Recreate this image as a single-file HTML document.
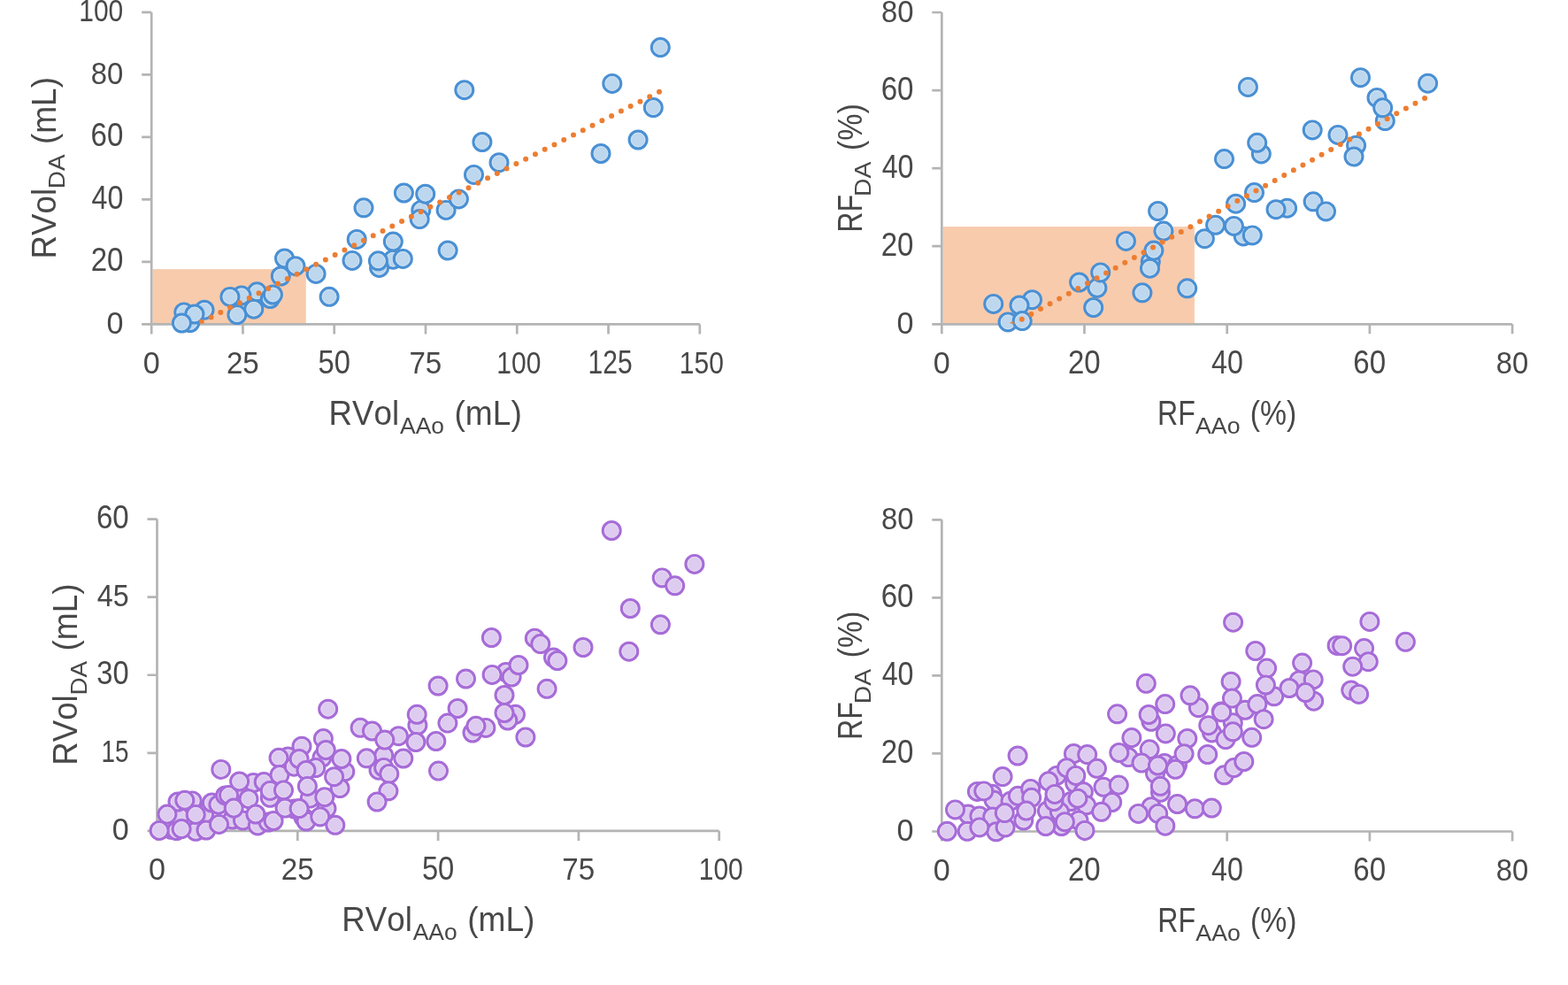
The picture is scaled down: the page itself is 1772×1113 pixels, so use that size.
<!DOCTYPE html><html><head><meta charset="utf-8"><title>Regurgitant volume and fraction scatter plots</title>
<style>html,body{margin:0;padding:0;background:#fff;overflow:hidden}svg{display:block}text{font-family:"Liberation Sans",sans-serif;font-kerning:none}</style></head><body>
<svg width="1772" height="1113" viewBox="0 0 1772 1113">
<rect width="1772" height="1113" fill="#fff"/>
<rect x="172.5" y="304.1" width="173.30" height="62.30" fill="#F8CBAD"/>
<path d="M171.20,13.90V377.40M160.20,366.40H790.82M274.47,366.40V377.40M377.74,366.40V377.40M481.01,366.40V377.40M584.28,366.40V377.40M687.55,366.40V377.40M790.82,366.40V377.40M160.20,295.90H171.20M160.20,225.40H171.20M160.20,154.90H171.20M160.20,84.40H171.20M160.20,13.90H171.20" stroke="#B4B4B4" stroke-width="2.7" fill="none"/>
<g fill="#BDD7EE" stroke="#4A90D4" stroke-width="3.2">
<circle cx="207.8" cy="352.9" r="9.9"/><circle cx="207.8" cy="352.9" r="7.9" fill="none" stroke="#D3E4F3" stroke-width="0.9"/>
<circle cx="214.8" cy="364.5" r="9.9"/><circle cx="214.8" cy="364.5" r="7.9" fill="none" stroke="#D3E4F3" stroke-width="0.9"/>
<circle cx="231.0" cy="350.2" r="9.9"/><circle cx="231.0" cy="350.2" r="7.9" fill="none" stroke="#D3E4F3" stroke-width="0.9"/>
<circle cx="219.9" cy="355.0" r="9.9"/><circle cx="219.9" cy="355.0" r="7.9" fill="none" stroke="#D3E4F3" stroke-width="0.9"/>
<circle cx="205.4" cy="365.0" r="9.9"/><circle cx="205.4" cy="365.0" r="7.9" fill="none" stroke="#D3E4F3" stroke-width="0.9"/>
<circle cx="290.4" cy="329.8" r="9.9"/><circle cx="290.4" cy="329.8" r="7.9" fill="none" stroke="#D3E4F3" stroke-width="0.9"/>
<circle cx="272.9" cy="333.9" r="9.9"/><circle cx="272.9" cy="333.9" r="7.9" fill="none" stroke="#D3E4F3" stroke-width="0.9"/>
<circle cx="259.9" cy="335.4" r="9.9"/><circle cx="259.9" cy="335.4" r="7.9" fill="none" stroke="#D3E4F3" stroke-width="0.9"/>
<circle cx="267.9" cy="355.6" r="9.9"/><circle cx="267.9" cy="355.6" r="7.9" fill="none" stroke="#D3E4F3" stroke-width="0.9"/>
<circle cx="286.8" cy="349.2" r="9.9"/><circle cx="286.8" cy="349.2" r="7.9" fill="none" stroke="#D3E4F3" stroke-width="0.9"/>
<circle cx="305.3" cy="337.5" r="9.9"/><circle cx="305.3" cy="337.5" r="7.9" fill="none" stroke="#D3E4F3" stroke-width="0.9"/>
<circle cx="308.4" cy="333.0" r="9.9"/><circle cx="308.4" cy="333.0" r="7.9" fill="none" stroke="#D3E4F3" stroke-width="0.9"/>
<circle cx="321.5" cy="292.0" r="9.9"/><circle cx="321.5" cy="292.0" r="7.9" fill="none" stroke="#D3E4F3" stroke-width="0.9"/>
<circle cx="334.0" cy="300.7" r="9.9"/><circle cx="334.0" cy="300.7" r="7.9" fill="none" stroke="#D3E4F3" stroke-width="0.9"/>
<circle cx="317.3" cy="312.0" r="9.9"/><circle cx="317.3" cy="312.0" r="7.9" fill="none" stroke="#D3E4F3" stroke-width="0.9"/>
<circle cx="357.1" cy="309.4" r="9.9"/><circle cx="357.1" cy="309.4" r="7.9" fill="none" stroke="#D3E4F3" stroke-width="0.9"/>
<circle cx="372.1" cy="335.3" r="9.9"/><circle cx="372.1" cy="335.3" r="7.9" fill="none" stroke="#D3E4F3" stroke-width="0.9"/>
<circle cx="398.0" cy="294.4" r="9.9"/><circle cx="398.0" cy="294.4" r="7.9" fill="none" stroke="#D3E4F3" stroke-width="0.9"/>
<circle cx="403.2" cy="270.4" r="9.9"/><circle cx="403.2" cy="270.4" r="7.9" fill="none" stroke="#D3E4F3" stroke-width="0.9"/>
<circle cx="411.0" cy="234.8" r="9.9"/><circle cx="411.0" cy="234.8" r="7.9" fill="none" stroke="#D3E4F3" stroke-width="0.9"/>
<circle cx="444.3" cy="293.2" r="9.9"/><circle cx="444.3" cy="293.2" r="7.9" fill="none" stroke="#D3E4F3" stroke-width="0.9"/>
<circle cx="428.6" cy="302.4" r="9.9"/><circle cx="428.6" cy="302.4" r="7.9" fill="none" stroke="#D3E4F3" stroke-width="0.9"/>
<circle cx="427.4" cy="294.8" r="9.9"/><circle cx="427.4" cy="294.8" r="7.9" fill="none" stroke="#D3E4F3" stroke-width="0.9"/>
<circle cx="455.3" cy="292.4" r="9.9"/><circle cx="455.3" cy="292.4" r="7.9" fill="none" stroke="#D3E4F3" stroke-width="0.9"/>
<circle cx="444.3" cy="273.0" r="9.9"/><circle cx="444.3" cy="273.0" r="7.9" fill="none" stroke="#D3E4F3" stroke-width="0.9"/>
<circle cx="456.4" cy="218.0" r="9.9"/><circle cx="456.4" cy="218.0" r="7.9" fill="none" stroke="#D3E4F3" stroke-width="0.9"/>
<circle cx="475.8" cy="237.4" r="9.9"/><circle cx="475.8" cy="237.4" r="7.9" fill="none" stroke="#D3E4F3" stroke-width="0.9"/>
<circle cx="474.2" cy="247.6" r="9.9"/><circle cx="474.2" cy="247.6" r="7.9" fill="none" stroke="#D3E4F3" stroke-width="0.9"/>
<circle cx="480.7" cy="219.2" r="9.9"/><circle cx="480.7" cy="219.2" r="7.9" fill="none" stroke="#D3E4F3" stroke-width="0.9"/>
<circle cx="504.1" cy="237.4" r="9.9"/><circle cx="504.1" cy="237.4" r="7.9" fill="none" stroke="#D3E4F3" stroke-width="0.9"/>
<circle cx="506.1" cy="283.0" r="9.9"/><circle cx="506.1" cy="283.0" r="7.9" fill="none" stroke="#D3E4F3" stroke-width="0.9"/>
<circle cx="518.4" cy="224.9" r="9.9"/><circle cx="518.4" cy="224.9" r="7.9" fill="none" stroke="#D3E4F3" stroke-width="0.9"/>
<circle cx="535.5" cy="197.4" r="9.9"/><circle cx="535.5" cy="197.4" r="7.9" fill="none" stroke="#D3E4F3" stroke-width="0.9"/>
<circle cx="544.9" cy="160.5" r="9.9"/><circle cx="544.9" cy="160.5" r="7.9" fill="none" stroke="#D3E4F3" stroke-width="0.9"/>
<circle cx="564.0" cy="183.7" r="9.9"/><circle cx="564.0" cy="183.7" r="7.9" fill="none" stroke="#D3E4F3" stroke-width="0.9"/>
<circle cx="524.8" cy="101.7" r="9.9"/><circle cx="524.8" cy="101.7" r="7.9" fill="none" stroke="#D3E4F3" stroke-width="0.9"/>
<circle cx="679.0" cy="173.5" r="9.9"/><circle cx="679.0" cy="173.5" r="7.9" fill="none" stroke="#D3E4F3" stroke-width="0.9"/>
<circle cx="691.8" cy="94.4" r="9.9"/><circle cx="691.8" cy="94.4" r="7.9" fill="none" stroke="#D3E4F3" stroke-width="0.9"/>
<circle cx="721.1" cy="158.0" r="9.9"/><circle cx="721.1" cy="158.0" r="7.9" fill="none" stroke="#D3E4F3" stroke-width="0.9"/>
<circle cx="738.3" cy="121.6" r="9.9"/><circle cx="738.3" cy="121.6" r="7.9" fill="none" stroke="#D3E4F3" stroke-width="0.9"/>
<circle cx="746.3" cy="53.6" r="9.9"/><circle cx="746.3" cy="53.6" r="7.9" fill="none" stroke="#D3E4F3" stroke-width="0.9"/>
</g>
<clipPath id="c1"><rect x="171.2" y="0" width="639.6199999999999" height="365.6"/></clipPath>
<path d="M745.0,103.8L176.20,389.74" stroke="#ED7D31" stroke-width="6" stroke-linecap="round" stroke-dasharray="0 12.06" fill="none" clip-path="url(#c1)"/>
<g fill="#484848">
<text transform="translate(161.72,421.90) scale(0.9472,1)" font-size="36.0">0</text>
<text transform="translate(255.90,421.90) scale(0.9205,1)" font-size="36.0">25</text>
<text transform="translate(359.53,421.90) scale(0.9087,1)" font-size="36.0">50</text>
<text transform="translate(462.41,421.90) scale(0.9213,1)" font-size="36.0">75</text>
<text transform="translate(561.29,421.90) scale(0.8334,1)" font-size="36.0">100</text>
<text transform="translate(664.56,421.90) scale(0.8350,1)" font-size="36.0">125</text>
<text transform="translate(767.83,421.90) scale(0.8334,1)" font-size="36.0">150</text>
<text transform="translate(120.47,376.95) scale(0.9472,1)" font-size="36.0">0</text>
<text transform="translate(102.64,306.45) scale(0.9178,1)" font-size="36.0">20</text>
<text transform="translate(103.56,235.95) scale(0.8939,1)" font-size="36.0">40</text>
<text transform="translate(102.62,165.45) scale(0.9183,1)" font-size="36.0">60</text>
<text transform="translate(102.87,94.95) scale(0.9117,1)" font-size="36.0">80</text>
<text transform="translate(89.21,24.45) scale(0.8334,1)" font-size="36.0">100</text>
</g>
<rect x="1065.6" y="256.1" width="284.30" height="110.20" fill="#F8CBAD"/>
<path d="M1064.30,13.98V377.30M1053.30,366.30H1709.10M1225.50,366.30V377.30M1386.70,366.30V377.30M1547.90,366.30V377.30M1709.10,366.30V377.30M1053.30,278.22H1064.30M1053.30,190.14H1064.30M1053.30,102.06H1064.30M1053.30,13.98H1064.30" stroke="#B4B4B4" stroke-width="2.7" fill="none"/>
<g fill="#BDD7EE" stroke="#4A90D4" stroke-width="3.2">
<circle cx="1122.7" cy="343.4" r="9.9"/><circle cx="1122.7" cy="343.4" r="7.9" fill="none" stroke="#D3E4F3" stroke-width="0.9"/>
<circle cx="1139.1" cy="363.9" r="9.9"/><circle cx="1139.1" cy="363.9" r="7.9" fill="none" stroke="#D3E4F3" stroke-width="0.9"/>
<circle cx="1166.5" cy="338.7" r="9.9"/><circle cx="1166.5" cy="338.7" r="7.9" fill="none" stroke="#D3E4F3" stroke-width="0.9"/>
<circle cx="1152.0" cy="345.0" r="9.9"/><circle cx="1152.0" cy="345.0" r="7.9" fill="none" stroke="#D3E4F3" stroke-width="0.9"/>
<circle cx="1155.2" cy="362.6" r="9.9"/><circle cx="1155.2" cy="362.6" r="7.9" fill="none" stroke="#D3E4F3" stroke-width="0.9"/>
<circle cx="1239.9" cy="325.3" r="9.9"/><circle cx="1239.9" cy="325.3" r="7.9" fill="none" stroke="#D3E4F3" stroke-width="0.9"/>
<circle cx="1219.6" cy="319.0" r="9.9"/><circle cx="1219.6" cy="319.0" r="7.9" fill="none" stroke="#D3E4F3" stroke-width="0.9"/>
<circle cx="1243.7" cy="307.9" r="9.9"/><circle cx="1243.7" cy="307.9" r="7.9" fill="none" stroke="#D3E4F3" stroke-width="0.9"/>
<circle cx="1235.7" cy="347.5" r="9.9"/><circle cx="1235.7" cy="347.5" r="7.9" fill="none" stroke="#D3E4F3" stroke-width="0.9"/>
<circle cx="1272.4" cy="272.4" r="9.9"/><circle cx="1272.4" cy="272.4" r="7.9" fill="none" stroke="#D3E4F3" stroke-width="0.9"/>
<circle cx="1308.6" cy="238.5" r="9.9"/><circle cx="1308.6" cy="238.5" r="7.9" fill="none" stroke="#D3E4F3" stroke-width="0.9"/>
<circle cx="1300.3" cy="295.6" r="9.9"/><circle cx="1300.3" cy="295.6" r="7.9" fill="none" stroke="#D3E4F3" stroke-width="0.9"/>
<circle cx="1299.5" cy="303.2" r="9.9"/><circle cx="1299.5" cy="303.2" r="7.9" fill="none" stroke="#D3E4F3" stroke-width="0.9"/>
<circle cx="1303.9" cy="283.1" r="9.9"/><circle cx="1303.9" cy="283.1" r="7.9" fill="none" stroke="#D3E4F3" stroke-width="0.9"/>
<circle cx="1314.9" cy="261.1" r="9.9"/><circle cx="1314.9" cy="261.1" r="7.9" fill="none" stroke="#D3E4F3" stroke-width="0.9"/>
<circle cx="1290.9" cy="330.8" r="9.9"/><circle cx="1290.9" cy="330.8" r="7.9" fill="none" stroke="#D3E4F3" stroke-width="0.9"/>
<circle cx="1341.7" cy="325.8" r="9.9"/><circle cx="1341.7" cy="325.8" r="7.9" fill="none" stroke="#D3E4F3" stroke-width="0.9"/>
<circle cx="1361.4" cy="269.7" r="9.9"/><circle cx="1361.4" cy="269.7" r="7.9" fill="none" stroke="#D3E4F3" stroke-width="0.9"/>
<circle cx="1373.6" cy="254.3" r="9.9"/><circle cx="1373.6" cy="254.3" r="7.9" fill="none" stroke="#D3E4F3" stroke-width="0.9"/>
<circle cx="1405.2" cy="266.9" r="9.9"/><circle cx="1405.2" cy="266.9" r="7.9" fill="none" stroke="#D3E4F3" stroke-width="0.9"/>
<circle cx="1394.4" cy="255.4" r="9.9"/><circle cx="1394.4" cy="255.4" r="7.9" fill="none" stroke="#D3E4F3" stroke-width="0.9"/>
<circle cx="1415.3" cy="265.9" r="9.9"/><circle cx="1415.3" cy="265.9" r="7.9" fill="none" stroke="#D3E4F3" stroke-width="0.9"/>
<circle cx="1396.6" cy="230.2" r="9.9"/><circle cx="1396.6" cy="230.2" r="7.9" fill="none" stroke="#D3E4F3" stroke-width="0.9"/>
<circle cx="1417.5" cy="217.6" r="9.9"/><circle cx="1417.5" cy="217.6" r="7.9" fill="none" stroke="#D3E4F3" stroke-width="0.9"/>
<circle cx="1454.6" cy="235.2" r="9.9"/><circle cx="1454.6" cy="235.2" r="7.9" fill="none" stroke="#D3E4F3" stroke-width="0.9"/>
<circle cx="1442.0" cy="236.7" r="9.9"/><circle cx="1442.0" cy="236.7" r="7.9" fill="none" stroke="#D3E4F3" stroke-width="0.9"/>
<circle cx="1410.4" cy="98.4" r="9.9"/><circle cx="1410.4" cy="98.4" r="7.9" fill="none" stroke="#D3E4F3" stroke-width="0.9"/>
<circle cx="1383.5" cy="179.6" r="9.9"/><circle cx="1383.5" cy="179.6" r="7.9" fill="none" stroke="#D3E4F3" stroke-width="0.9"/>
<circle cx="1425.3" cy="173.9" r="9.9"/><circle cx="1425.3" cy="173.9" r="7.9" fill="none" stroke="#D3E4F3" stroke-width="0.9"/>
<circle cx="1420.7" cy="161.3" r="9.9"/><circle cx="1420.7" cy="161.3" r="7.9" fill="none" stroke="#D3E4F3" stroke-width="0.9"/>
<circle cx="1483.2" cy="146.9" r="9.9"/><circle cx="1483.2" cy="146.9" r="7.9" fill="none" stroke="#D3E4F3" stroke-width="0.9"/>
<circle cx="1484.1" cy="227.8" r="9.9"/><circle cx="1484.1" cy="227.8" r="7.9" fill="none" stroke="#D3E4F3" stroke-width="0.9"/>
<circle cx="1498.5" cy="238.9" r="9.9"/><circle cx="1498.5" cy="238.9" r="7.9" fill="none" stroke="#D3E4F3" stroke-width="0.9"/>
<circle cx="1532.6" cy="164.3" r="9.9"/><circle cx="1532.6" cy="164.3" r="7.9" fill="none" stroke="#D3E4F3" stroke-width="0.9"/>
<circle cx="1512.0" cy="152.4" r="9.9"/><circle cx="1512.0" cy="152.4" r="7.9" fill="none" stroke="#D3E4F3" stroke-width="0.9"/>
<circle cx="1530.0" cy="177.0" r="9.9"/><circle cx="1530.0" cy="177.0" r="7.9" fill="none" stroke="#D3E4F3" stroke-width="0.9"/>
<circle cx="1537.5" cy="87.7" r="9.9"/><circle cx="1537.5" cy="87.7" r="7.9" fill="none" stroke="#D3E4F3" stroke-width="0.9"/>
<circle cx="1556.0" cy="110.4" r="9.9"/><circle cx="1556.0" cy="110.4" r="7.9" fill="none" stroke="#D3E4F3" stroke-width="0.9"/>
<circle cx="1565.3" cy="136.6" r="9.9"/><circle cx="1565.3" cy="136.6" r="7.9" fill="none" stroke="#D3E4F3" stroke-width="0.9"/>
<circle cx="1562.7" cy="121.8" r="9.9"/><circle cx="1562.7" cy="121.8" r="7.9" fill="none" stroke="#D3E4F3" stroke-width="0.9"/>
<circle cx="1613.6" cy="94.2" r="9.9"/><circle cx="1613.6" cy="94.2" r="7.9" fill="none" stroke="#D3E4F3" stroke-width="0.9"/>
</g>
<clipPath id="c2"><rect x="1064.3" y="0" width="664.8" height="365.6"/></clipPath>
<path d="M1610.06,110.94L1069.30,407.66" stroke="#ED7D31" stroke-width="6" stroke-linecap="round" stroke-dasharray="0 12.076" fill="none" clip-path="url(#c2)"/>
<g fill="#484848">
<text transform="translate(1054.82,421.80) scale(0.9472,1)" font-size="36.0">0</text>
<text transform="translate(1206.94,421.80) scale(0.9178,1)" font-size="36.0">20</text>
<text transform="translate(1369.06,421.80) scale(0.8939,1)" font-size="36.0">40</text>
<text transform="translate(1529.32,421.80) scale(0.9183,1)" font-size="36.0">60</text>
<text transform="translate(1690.77,421.80) scale(0.9117,1)" font-size="36.0">80</text>
<text transform="translate(1013.57,376.85) scale(0.9472,1)" font-size="36.0">0</text>
<text transform="translate(995.74,288.77) scale(0.9178,1)" font-size="36.0">20</text>
<text transform="translate(996.66,200.69) scale(0.8939,1)" font-size="36.0">40</text>
<text transform="translate(995.72,112.61) scale(0.9183,1)" font-size="36.0">60</text>
<text transform="translate(995.97,24.53) scale(0.9117,1)" font-size="36.0">80</text>
</g>
<path d="M177.50,586.58V949.90M166.50,938.90H812.70M336.30,938.90V949.90M495.10,938.90V949.90M653.90,938.90V949.90M812.70,938.90V949.90M166.50,850.82H177.50M166.50,762.74H177.50M166.50,674.66H177.50M166.50,586.58H177.50" stroke="#B4B4B4" stroke-width="2.7" fill="none"/>
<g fill="#DECBF0" stroke="#A76CD8" stroke-width="3.2">
<circle cx="193.6" cy="937.3" r="9.9"/><circle cx="193.6" cy="937.3" r="7.9" fill="none" stroke="#E8DCF4" stroke-width="0.9"/>
<circle cx="199.5" cy="938.6" r="9.9"/><circle cx="199.5" cy="938.6" r="7.9" fill="none" stroke="#E8DCF4" stroke-width="0.9"/>
<circle cx="221.2" cy="939.3" r="9.9"/><circle cx="221.2" cy="939.3" r="7.9" fill="none" stroke="#E8DCF4" stroke-width="0.9"/>
<circle cx="202.7" cy="922.5" r="9.9"/><circle cx="202.7" cy="922.5" r="7.9" fill="none" stroke="#E8DCF4" stroke-width="0.9"/>
<circle cx="217.2" cy="904.9" r="9.9"/><circle cx="217.2" cy="904.9" r="7.9" fill="none" stroke="#E8DCF4" stroke-width="0.9"/>
<circle cx="201.0" cy="906.0" r="9.9"/><circle cx="201.0" cy="906.0" r="7.9" fill="none" stroke="#E8DCF4" stroke-width="0.9"/>
<circle cx="230.7" cy="919.8" r="9.9"/><circle cx="230.7" cy="919.8" r="7.9" fill="none" stroke="#E8DCF4" stroke-width="0.9"/>
<circle cx="239.4" cy="907.0" r="9.9"/><circle cx="239.4" cy="907.0" r="7.9" fill="none" stroke="#E8DCF4" stroke-width="0.9"/>
<circle cx="246.9" cy="909.2" r="9.9"/><circle cx="246.9" cy="909.2" r="7.9" fill="none" stroke="#E8DCF4" stroke-width="0.9"/>
<circle cx="262.7" cy="926.0" r="9.9"/><circle cx="262.7" cy="926.0" r="7.9" fill="none" stroke="#E8DCF4" stroke-width="0.9"/>
<circle cx="274.5" cy="927.0" r="9.9"/><circle cx="274.5" cy="927.0" r="7.9" fill="none" stroke="#E8DCF4" stroke-width="0.9"/>
<circle cx="277.5" cy="896.3" r="9.9"/><circle cx="277.5" cy="896.3" r="7.9" fill="none" stroke="#E8DCF4" stroke-width="0.9"/>
<circle cx="286.4" cy="884.5" r="9.9"/><circle cx="286.4" cy="884.5" r="7.9" fill="none" stroke="#E8DCF4" stroke-width="0.9"/>
<circle cx="291.3" cy="932.9" r="9.9"/><circle cx="291.3" cy="932.9" r="7.9" fill="none" stroke="#E8DCF4" stroke-width="0.9"/>
<circle cx="303.2" cy="929.0" r="9.9"/><circle cx="303.2" cy="929.0" r="7.9" fill="none" stroke="#E8DCF4" stroke-width="0.9"/>
<circle cx="305.2" cy="901.3" r="9.9"/><circle cx="305.2" cy="901.3" r="7.9" fill="none" stroke="#E8DCF4" stroke-width="0.9"/>
<circle cx="325.5" cy="855.0" r="9.9"/><circle cx="325.5" cy="855.0" r="7.9" fill="none" stroke="#E8DCF4" stroke-width="0.9"/>
<circle cx="332.8" cy="914.1" r="9.9"/><circle cx="332.8" cy="914.1" r="7.9" fill="none" stroke="#E8DCF4" stroke-width="0.9"/>
<circle cx="180.1" cy="938.4" r="9.9"/><circle cx="180.1" cy="938.4" r="7.9" fill="none" stroke="#E8DCF4" stroke-width="0.9"/>
<circle cx="205.1" cy="936.6" r="9.9"/><circle cx="205.1" cy="936.6" r="7.9" fill="none" stroke="#E8DCF4" stroke-width="0.9"/>
<circle cx="188.9" cy="920.1" r="9.9"/><circle cx="188.9" cy="920.1" r="7.9" fill="none" stroke="#E8DCF4" stroke-width="0.9"/>
<circle cx="208.8" cy="904.3" r="9.9"/><circle cx="208.8" cy="904.3" r="7.9" fill="none" stroke="#E8DCF4" stroke-width="0.9"/>
<circle cx="221.2" cy="920.4" r="9.9"/><circle cx="221.2" cy="920.4" r="7.9" fill="none" stroke="#E8DCF4" stroke-width="0.9"/>
<circle cx="233.0" cy="938.0" r="9.9"/><circle cx="233.0" cy="938.0" r="7.9" fill="none" stroke="#E8DCF4" stroke-width="0.9"/>
<circle cx="247.5" cy="931.4" r="9.9"/><circle cx="247.5" cy="931.4" r="7.9" fill="none" stroke="#E8DCF4" stroke-width="0.9"/>
<circle cx="254.6" cy="898.9" r="9.9"/><circle cx="254.6" cy="898.9" r="7.9" fill="none" stroke="#E8DCF4" stroke-width="0.9"/>
<circle cx="249.8" cy="869.4" r="9.9"/><circle cx="249.8" cy="869.4" r="7.9" fill="none" stroke="#E8DCF4" stroke-width="0.9"/>
<circle cx="258.5" cy="898.4" r="9.9"/><circle cx="258.5" cy="898.4" r="7.9" fill="none" stroke="#E8DCF4" stroke-width="0.9"/>
<circle cx="264.2" cy="913.1" r="9.9"/><circle cx="264.2" cy="913.1" r="7.9" fill="none" stroke="#E8DCF4" stroke-width="0.9"/>
<circle cx="270.6" cy="883.0" r="9.9"/><circle cx="270.6" cy="883.0" r="7.9" fill="none" stroke="#E8DCF4" stroke-width="0.9"/>
<circle cx="281.0" cy="902.7" r="9.9"/><circle cx="281.0" cy="902.7" r="7.9" fill="none" stroke="#E8DCF4" stroke-width="0.9"/>
<circle cx="298.2" cy="883.5" r="9.9"/><circle cx="298.2" cy="883.5" r="7.9" fill="none" stroke="#E8DCF4" stroke-width="0.9"/>
<circle cx="288.9" cy="920.0" r="9.9"/><circle cx="288.9" cy="920.0" r="7.9" fill="none" stroke="#E8DCF4" stroke-width="0.9"/>
<circle cx="309.1" cy="927.5" r="9.9"/><circle cx="309.1" cy="927.5" r="7.9" fill="none" stroke="#E8DCF4" stroke-width="0.9"/>
<circle cx="305.2" cy="893.4" r="9.9"/><circle cx="305.2" cy="893.4" r="7.9" fill="none" stroke="#E8DCF4" stroke-width="0.9"/>
<circle cx="315.0" cy="856.3" r="9.9"/><circle cx="315.0" cy="856.3" r="7.9" fill="none" stroke="#E8DCF4" stroke-width="0.9"/>
<circle cx="316.0" cy="875.6" r="9.9"/><circle cx="316.0" cy="875.6" r="7.9" fill="none" stroke="#E8DCF4" stroke-width="0.9"/>
<circle cx="320.5" cy="892.9" r="9.9"/><circle cx="320.5" cy="892.9" r="7.9" fill="none" stroke="#E8DCF4" stroke-width="0.9"/>
<circle cx="322.0" cy="913.1" r="9.9"/><circle cx="322.0" cy="913.1" r="7.9" fill="none" stroke="#E8DCF4" stroke-width="0.9"/>
<circle cx="364.0" cy="856.1" r="9.9"/><circle cx="364.0" cy="856.1" r="7.9" fill="none" stroke="#E8DCF4" stroke-width="0.9"/>
<circle cx="356.8" cy="867.6" r="9.9"/><circle cx="356.8" cy="867.6" r="7.9" fill="none" stroke="#E8DCF4" stroke-width="0.9"/>
<circle cx="332.3" cy="866.2" r="9.9"/><circle cx="332.3" cy="866.2" r="7.9" fill="none" stroke="#E8DCF4" stroke-width="0.9"/>
<circle cx="389.8" cy="871.9" r="9.9"/><circle cx="389.8" cy="871.9" r="7.9" fill="none" stroke="#E8DCF4" stroke-width="0.9"/>
<circle cx="384.1" cy="890.6" r="9.9"/><circle cx="384.1" cy="890.6" r="7.9" fill="none" stroke="#E8DCF4" stroke-width="0.9"/>
<circle cx="350.3" cy="902.1" r="9.9"/><circle cx="350.3" cy="902.1" r="7.9" fill="none" stroke="#E8DCF4" stroke-width="0.9"/>
<circle cx="369.0" cy="913.6" r="9.9"/><circle cx="369.0" cy="913.6" r="7.9" fill="none" stroke="#E8DCF4" stroke-width="0.9"/>
<circle cx="343.1" cy="923.7" r="9.9"/><circle cx="343.1" cy="923.7" r="7.9" fill="none" stroke="#E8DCF4" stroke-width="0.9"/>
<circle cx="346.0" cy="928.0" r="9.9"/><circle cx="346.0" cy="928.0" r="7.9" fill="none" stroke="#E8DCF4" stroke-width="0.9"/>
<circle cx="370.7" cy="801.2" r="9.9"/><circle cx="370.7" cy="801.2" r="7.9" fill="none" stroke="#E8DCF4" stroke-width="0.9"/>
<circle cx="407.1" cy="822.3" r="9.9"/><circle cx="407.1" cy="822.3" r="7.9" fill="none" stroke="#E8DCF4" stroke-width="0.9"/>
<circle cx="420.5" cy="826.0" r="9.9"/><circle cx="420.5" cy="826.0" r="7.9" fill="none" stroke="#E8DCF4" stroke-width="0.9"/>
<circle cx="365.4" cy="834.6" r="9.9"/><circle cx="365.4" cy="834.6" r="7.9" fill="none" stroke="#E8DCF4" stroke-width="0.9"/>
<circle cx="368.3" cy="847.5" r="9.9"/><circle cx="368.3" cy="847.5" r="7.9" fill="none" stroke="#E8DCF4" stroke-width="0.9"/>
<circle cx="341.0" cy="843.2" r="9.9"/><circle cx="341.0" cy="843.2" r="7.9" fill="none" stroke="#E8DCF4" stroke-width="0.9"/>
<circle cx="338.1" cy="857.5" r="9.9"/><circle cx="338.1" cy="857.5" r="7.9" fill="none" stroke="#E8DCF4" stroke-width="0.9"/>
<circle cx="346.0" cy="870.5" r="9.9"/><circle cx="346.0" cy="870.5" r="7.9" fill="none" stroke="#E8DCF4" stroke-width="0.9"/>
<circle cx="385.9" cy="857.5" r="9.9"/><circle cx="385.9" cy="857.5" r="7.9" fill="none" stroke="#E8DCF4" stroke-width="0.9"/>
<circle cx="377.6" cy="877.7" r="9.9"/><circle cx="377.6" cy="877.7" r="7.9" fill="none" stroke="#E8DCF4" stroke-width="0.9"/>
<circle cx="347.4" cy="888.4" r="9.9"/><circle cx="347.4" cy="888.4" r="7.9" fill="none" stroke="#E8DCF4" stroke-width="0.9"/>
<circle cx="366.8" cy="900.7" r="9.9"/><circle cx="366.8" cy="900.7" r="7.9" fill="none" stroke="#E8DCF4" stroke-width="0.9"/>
<circle cx="338.1" cy="913.6" r="9.9"/><circle cx="338.1" cy="913.6" r="7.9" fill="none" stroke="#E8DCF4" stroke-width="0.9"/>
<circle cx="361.8" cy="922.9" r="9.9"/><circle cx="361.8" cy="922.9" r="7.9" fill="none" stroke="#E8DCF4" stroke-width="0.9"/>
<circle cx="378.8" cy="932.3" r="9.9"/><circle cx="378.8" cy="932.3" r="7.9" fill="none" stroke="#E8DCF4" stroke-width="0.9"/>
<circle cx="471.9" cy="819.5" r="9.9"/><circle cx="471.9" cy="819.5" r="7.9" fill="none" stroke="#E8DCF4" stroke-width="0.9"/>
<circle cx="450.4" cy="831.7" r="9.9"/><circle cx="450.4" cy="831.7" r="7.9" fill="none" stroke="#E8DCF4" stroke-width="0.9"/>
<circle cx="433.7" cy="853.7" r="9.9"/><circle cx="433.7" cy="853.7" r="7.9" fill="none" stroke="#E8DCF4" stroke-width="0.9"/>
<circle cx="428.0" cy="870.2" r="9.9"/><circle cx="428.0" cy="870.2" r="7.9" fill="none" stroke="#E8DCF4" stroke-width="0.9"/>
<circle cx="433.7" cy="867.4" r="9.9"/><circle cx="433.7" cy="867.4" r="7.9" fill="none" stroke="#E8DCF4" stroke-width="0.9"/>
<circle cx="471.2" cy="807.3" r="9.9"/><circle cx="471.2" cy="807.3" r="7.9" fill="none" stroke="#E8DCF4" stroke-width="0.9"/>
<circle cx="434.8" cy="836.1" r="9.9"/><circle cx="434.8" cy="836.1" r="7.9" fill="none" stroke="#E8DCF4" stroke-width="0.9"/>
<circle cx="469.9" cy="838.5" r="9.9"/><circle cx="469.9" cy="838.5" r="7.9" fill="none" stroke="#E8DCF4" stroke-width="0.9"/>
<circle cx="492.8" cy="837.5" r="9.9"/><circle cx="492.8" cy="837.5" r="7.9" fill="none" stroke="#E8DCF4" stroke-width="0.9"/>
<circle cx="414.3" cy="856.8" r="9.9"/><circle cx="414.3" cy="856.8" r="7.9" fill="none" stroke="#E8DCF4" stroke-width="0.9"/>
<circle cx="455.8" cy="857.0" r="9.9"/><circle cx="455.8" cy="857.0" r="7.9" fill="none" stroke="#E8DCF4" stroke-width="0.9"/>
<circle cx="439.8" cy="874.4" r="9.9"/><circle cx="439.8" cy="874.4" r="7.9" fill="none" stroke="#E8DCF4" stroke-width="0.9"/>
<circle cx="495.5" cy="871.1" r="9.9"/><circle cx="495.5" cy="871.1" r="7.9" fill="none" stroke="#E8DCF4" stroke-width="0.9"/>
<circle cx="438.9" cy="893.8" r="9.9"/><circle cx="438.9" cy="893.8" r="7.9" fill="none" stroke="#E8DCF4" stroke-width="0.9"/>
<circle cx="426.1" cy="906.0" r="9.9"/><circle cx="426.1" cy="906.0" r="7.9" fill="none" stroke="#E8DCF4" stroke-width="0.9"/>
<circle cx="571.8" cy="759.5" r="9.9"/><circle cx="571.8" cy="759.5" r="7.9" fill="none" stroke="#E8DCF4" stroke-width="0.9"/>
<circle cx="578.1" cy="765.0" r="9.9"/><circle cx="578.1" cy="765.0" r="7.9" fill="none" stroke="#E8DCF4" stroke-width="0.9"/>
<circle cx="625.5" cy="743.0" r="9.9"/><circle cx="625.5" cy="743.0" r="7.9" fill="none" stroke="#E8DCF4" stroke-width="0.9"/>
<circle cx="582.5" cy="807.3" r="9.9"/><circle cx="582.5" cy="807.3" r="7.9" fill="none" stroke="#E8DCF4" stroke-width="0.9"/>
<circle cx="573.8" cy="814.0" r="9.9"/><circle cx="573.8" cy="814.0" r="7.9" fill="none" stroke="#E8DCF4" stroke-width="0.9"/>
<circle cx="548.9" cy="822.4" r="9.9"/><circle cx="548.9" cy="822.4" r="7.9" fill="none" stroke="#E8DCF4" stroke-width="0.9"/>
<circle cx="534.0" cy="828.0" r="9.9"/><circle cx="534.0" cy="828.0" r="7.9" fill="none" stroke="#E8DCF4" stroke-width="0.9"/>
<circle cx="604.3" cy="721.2" r="9.9"/><circle cx="604.3" cy="721.2" r="7.9" fill="none" stroke="#E8DCF4" stroke-width="0.9"/>
<circle cx="495.1" cy="775.0" r="9.9"/><circle cx="495.1" cy="775.0" r="7.9" fill="none" stroke="#E8DCF4" stroke-width="0.9"/>
<circle cx="526.5" cy="767.0" r="9.9"/><circle cx="526.5" cy="767.0" r="7.9" fill="none" stroke="#E8DCF4" stroke-width="0.9"/>
<circle cx="556.1" cy="762.4" r="9.9"/><circle cx="556.1" cy="762.4" r="7.9" fill="none" stroke="#E8DCF4" stroke-width="0.9"/>
<circle cx="586.0" cy="751.5" r="9.9"/><circle cx="586.0" cy="751.5" r="7.9" fill="none" stroke="#E8DCF4" stroke-width="0.9"/>
<circle cx="629.9" cy="746.5" r="9.9"/><circle cx="629.9" cy="746.5" r="7.9" fill="none" stroke="#E8DCF4" stroke-width="0.9"/>
<circle cx="618.1" cy="778.3" r="9.9"/><circle cx="618.1" cy="778.3" r="7.9" fill="none" stroke="#E8DCF4" stroke-width="0.9"/>
<circle cx="570.0" cy="785.5" r="9.9"/><circle cx="570.0" cy="785.5" r="7.9" fill="none" stroke="#E8DCF4" stroke-width="0.9"/>
<circle cx="570.0" cy="805.5" r="9.9"/><circle cx="570.0" cy="805.5" r="7.9" fill="none" stroke="#E8DCF4" stroke-width="0.9"/>
<circle cx="517.1" cy="800.5" r="9.9"/><circle cx="517.1" cy="800.5" r="7.9" fill="none" stroke="#E8DCF4" stroke-width="0.9"/>
<circle cx="505.9" cy="817.1" r="9.9"/><circle cx="505.9" cy="817.1" r="7.9" fill="none" stroke="#E8DCF4" stroke-width="0.9"/>
<circle cx="537.9" cy="820.3" r="9.9"/><circle cx="537.9" cy="820.3" r="7.9" fill="none" stroke="#E8DCF4" stroke-width="0.9"/>
<circle cx="593.9" cy="833.0" r="9.9"/><circle cx="593.9" cy="833.0" r="7.9" fill="none" stroke="#E8DCF4" stroke-width="0.9"/>
<circle cx="555.4" cy="720.5" r="9.9"/><circle cx="555.4" cy="720.5" r="7.9" fill="none" stroke="#E8DCF4" stroke-width="0.9"/>
<circle cx="610.8" cy="727.6" r="9.9"/><circle cx="610.8" cy="727.6" r="7.9" fill="none" stroke="#E8DCF4" stroke-width="0.9"/>
<circle cx="659.0" cy="731.5" r="9.9"/><circle cx="659.0" cy="731.5" r="7.9" fill="none" stroke="#E8DCF4" stroke-width="0.9"/>
<circle cx="691.2" cy="599.5" r="9.9"/><circle cx="691.2" cy="599.5" r="7.9" fill="none" stroke="#E8DCF4" stroke-width="0.9"/>
<circle cx="784.9" cy="637.4" r="9.9"/><circle cx="784.9" cy="637.4" r="7.9" fill="none" stroke="#E8DCF4" stroke-width="0.9"/>
<circle cx="748.2" cy="652.9" r="9.9"/><circle cx="748.2" cy="652.9" r="7.9" fill="none" stroke="#E8DCF4" stroke-width="0.9"/>
<circle cx="762.7" cy="661.8" r="9.9"/><circle cx="762.7" cy="661.8" r="7.9" fill="none" stroke="#E8DCF4" stroke-width="0.9"/>
<circle cx="712.3" cy="687.5" r="9.9"/><circle cx="712.3" cy="687.5" r="7.9" fill="none" stroke="#E8DCF4" stroke-width="0.9"/>
<circle cx="746.4" cy="705.8" r="9.9"/><circle cx="746.4" cy="705.8" r="7.9" fill="none" stroke="#E8DCF4" stroke-width="0.9"/>
<circle cx="710.8" cy="736.2" r="9.9"/><circle cx="710.8" cy="736.2" r="7.9" fill="none" stroke="#E8DCF4" stroke-width="0.9"/>
</g>
<g fill="#484848">
<text transform="translate(168.02,994.40) scale(0.9472,1)" font-size="36.0">0</text>
<text transform="translate(317.73,994.40) scale(0.9205,1)" font-size="36.0">25</text>
<text transform="translate(476.89,994.40) scale(0.9087,1)" font-size="36.0">50</text>
<text transform="translate(635.30,994.40) scale(0.9213,1)" font-size="36.0">75</text>
<text transform="translate(789.71,994.40) scale(0.8334,1)" font-size="36.0">100</text>
<text transform="translate(126.77,949.45) scale(0.9472,1)" font-size="36.0">0</text>
<text transform="translate(114.58,861.37) scale(0.7740,1)" font-size="36.0">15</text>
<text transform="translate(109.36,773.29) scale(0.9070,1)" font-size="36.0">30</text>
<text transform="translate(109.86,685.21) scale(0.8964,1)" font-size="36.0">45</text>
<text transform="translate(108.92,597.13) scale(0.9183,1)" font-size="36.0">60</text>
</g>
<path d="M1064.30,587.30V950.50M1053.30,939.50H1709.10M1225.50,939.50V950.50M1386.70,939.50V950.50M1547.90,939.50V950.50M1709.10,939.50V950.50M1053.30,851.45H1064.30M1053.30,763.40H1064.30M1053.30,675.35H1064.30M1053.30,587.30H1064.30" stroke="#B4B4B4" stroke-width="2.7" fill="none"/>
<g fill="#DECBF0" stroke="#A76CD8" stroke-width="3.2">
<circle cx="1275.2" cy="855.6" r="9.9"/><circle cx="1275.2" cy="855.6" r="7.9" fill="none" stroke="#E8DCF4" stroke-width="0.9"/>
<circle cx="1104.4" cy="894.4" r="9.9"/><circle cx="1104.4" cy="894.4" r="7.9" fill="none" stroke="#E8DCF4" stroke-width="0.9"/>
<circle cx="1121.2" cy="897.3" r="9.9"/><circle cx="1121.2" cy="897.3" r="7.9" fill="none" stroke="#E8DCF4" stroke-width="0.9"/>
<circle cx="1123.2" cy="904.2" r="9.9"/><circle cx="1123.2" cy="904.2" r="7.9" fill="none" stroke="#E8DCF4" stroke-width="0.9"/>
<circle cx="1094.0" cy="920.1" r="9.9"/><circle cx="1094.0" cy="920.1" r="7.9" fill="none" stroke="#E8DCF4" stroke-width="0.9"/>
<circle cx="1106.9" cy="922.0" r="9.9"/><circle cx="1106.9" cy="922.0" r="7.9" fill="none" stroke="#E8DCF4" stroke-width="0.9"/>
<circle cx="1121.7" cy="923.0" r="9.9"/><circle cx="1121.7" cy="923.0" r="7.9" fill="none" stroke="#E8DCF4" stroke-width="0.9"/>
<circle cx="1142.0" cy="905.2" r="9.9"/><circle cx="1142.0" cy="905.2" r="7.9" fill="none" stroke="#E8DCF4" stroke-width="0.9"/>
<circle cx="1150.4" cy="899.3" r="9.9"/><circle cx="1150.4" cy="899.3" r="7.9" fill="none" stroke="#E8DCF4" stroke-width="0.9"/>
<circle cx="1164.7" cy="891.4" r="9.9"/><circle cx="1164.7" cy="891.4" r="7.9" fill="none" stroke="#E8DCF4" stroke-width="0.9"/>
<circle cx="1165.7" cy="901.3" r="9.9"/><circle cx="1165.7" cy="901.3" r="7.9" fill="none" stroke="#E8DCF4" stroke-width="0.9"/>
<circle cx="1156.8" cy="927.0" r="9.9"/><circle cx="1156.8" cy="927.0" r="7.9" fill="none" stroke="#E8DCF4" stroke-width="0.9"/>
<circle cx="1093.1" cy="939.3" r="9.9"/><circle cx="1093.1" cy="939.3" r="7.9" fill="none" stroke="#E8DCF4" stroke-width="0.9"/>
<circle cx="1125.7" cy="939.8" r="9.9"/><circle cx="1125.7" cy="939.8" r="7.9" fill="none" stroke="#E8DCF4" stroke-width="0.9"/>
<circle cx="1136.1" cy="934.9" r="9.9"/><circle cx="1136.1" cy="934.9" r="7.9" fill="none" stroke="#E8DCF4" stroke-width="0.9"/>
<circle cx="1150.1" cy="854.0" r="9.9"/><circle cx="1150.1" cy="854.0" r="7.9" fill="none" stroke="#E8DCF4" stroke-width="0.9"/>
<circle cx="1133.1" cy="877.6" r="9.9"/><circle cx="1133.1" cy="877.6" r="7.9" fill="none" stroke="#E8DCF4" stroke-width="0.9"/>
<circle cx="1111.8" cy="893.9" r="9.9"/><circle cx="1111.8" cy="893.9" r="7.9" fill="none" stroke="#E8DCF4" stroke-width="0.9"/>
<circle cx="1079.5" cy="914.9" r="9.9"/><circle cx="1079.5" cy="914.9" r="7.9" fill="none" stroke="#E8DCF4" stroke-width="0.9"/>
<circle cx="1135.3" cy="918.6" r="9.9"/><circle cx="1135.3" cy="918.6" r="7.9" fill="none" stroke="#E8DCF4" stroke-width="0.9"/>
<circle cx="1159.8" cy="916.1" r="9.9"/><circle cx="1159.8" cy="916.1" r="7.9" fill="none" stroke="#E8DCF4" stroke-width="0.9"/>
<circle cx="1070.3" cy="939.3" r="9.9"/><circle cx="1070.3" cy="939.3" r="7.9" fill="none" stroke="#E8DCF4" stroke-width="0.9"/>
<circle cx="1106.9" cy="934.9" r="9.9"/><circle cx="1106.9" cy="934.9" r="7.9" fill="none" stroke="#E8DCF4" stroke-width="0.9"/>
<circle cx="1194.2" cy="876.4" r="9.9"/><circle cx="1194.2" cy="876.4" r="7.9" fill="none" stroke="#E8DCF4" stroke-width="0.9"/>
<circle cx="1214.7" cy="885.0" r="9.9"/><circle cx="1214.7" cy="885.0" r="7.9" fill="none" stroke="#E8DCF4" stroke-width="0.9"/>
<circle cx="1224.4" cy="894.7" r="9.9"/><circle cx="1224.4" cy="894.7" r="7.9" fill="none" stroke="#E8DCF4" stroke-width="0.9"/>
<circle cx="1210.4" cy="905.5" r="9.9"/><circle cx="1210.4" cy="905.5" r="7.9" fill="none" stroke="#E8DCF4" stroke-width="0.9"/>
<circle cx="1227.6" cy="909.8" r="9.9"/><circle cx="1227.6" cy="909.8" r="7.9" fill="none" stroke="#E8DCF4" stroke-width="0.9"/>
<circle cx="1183.4" cy="916.3" r="9.9"/><circle cx="1183.4" cy="916.3" r="7.9" fill="none" stroke="#E8DCF4" stroke-width="0.9"/>
<circle cx="1197.4" cy="917.3" r="9.9"/><circle cx="1197.4" cy="917.3" r="7.9" fill="none" stroke="#E8DCF4" stroke-width="0.9"/>
<circle cx="1219.0" cy="927.0" r="9.9"/><circle cx="1219.0" cy="927.0" r="7.9" fill="none" stroke="#E8DCF4" stroke-width="0.9"/>
<circle cx="1199.6" cy="933.5" r="9.9"/><circle cx="1199.6" cy="933.5" r="7.9" fill="none" stroke="#E8DCF4" stroke-width="0.9"/>
<circle cx="1191.0" cy="905.5" r="9.9"/><circle cx="1191.0" cy="905.5" r="7.9" fill="none" stroke="#E8DCF4" stroke-width="0.9"/>
<circle cx="1213.4" cy="851.6" r="9.9"/><circle cx="1213.4" cy="851.6" r="7.9" fill="none" stroke="#E8DCF4" stroke-width="0.9"/>
<circle cx="1228.7" cy="852.6" r="9.9"/><circle cx="1228.7" cy="852.6" r="7.9" fill="none" stroke="#E8DCF4" stroke-width="0.9"/>
<circle cx="1205.5" cy="867.7" r="9.9"/><circle cx="1205.5" cy="867.7" r="7.9" fill="none" stroke="#E8DCF4" stroke-width="0.9"/>
<circle cx="1239.5" cy="868.3" r="9.9"/><circle cx="1239.5" cy="868.3" r="7.9" fill="none" stroke="#E8DCF4" stroke-width="0.9"/>
<circle cx="1215.8" cy="876.4" r="9.9"/><circle cx="1215.8" cy="876.4" r="7.9" fill="none" stroke="#E8DCF4" stroke-width="0.9"/>
<circle cx="1185.0" cy="882.8" r="9.9"/><circle cx="1185.0" cy="882.8" r="7.9" fill="none" stroke="#E8DCF4" stroke-width="0.9"/>
<circle cx="1192.0" cy="897.4" r="9.9"/><circle cx="1192.0" cy="897.4" r="7.9" fill="none" stroke="#E8DCF4" stroke-width="0.9"/>
<circle cx="1217.9" cy="902.2" r="9.9"/><circle cx="1217.9" cy="902.2" r="7.9" fill="none" stroke="#E8DCF4" stroke-width="0.9"/>
<circle cx="1247.0" cy="889.3" r="9.9"/><circle cx="1247.0" cy="889.3" r="7.9" fill="none" stroke="#E8DCF4" stroke-width="0.9"/>
<circle cx="1264.3" cy="887.1" r="9.9"/><circle cx="1264.3" cy="887.1" r="7.9" fill="none" stroke="#E8DCF4" stroke-width="0.9"/>
<circle cx="1256.7" cy="906.5" r="9.9"/><circle cx="1256.7" cy="906.5" r="7.9" fill="none" stroke="#E8DCF4" stroke-width="0.9"/>
<circle cx="1244.7" cy="917.3" r="9.9"/><circle cx="1244.7" cy="917.3" r="7.9" fill="none" stroke="#E8DCF4" stroke-width="0.9"/>
<circle cx="1264.8" cy="850.5" r="9.9"/><circle cx="1264.8" cy="850.5" r="7.9" fill="none" stroke="#E8DCF4" stroke-width="0.9"/>
<circle cx="1203.4" cy="928.7" r="9.9"/><circle cx="1203.4" cy="928.7" r="7.9" fill="none" stroke="#E8DCF4" stroke-width="0.9"/>
<circle cx="1181.8" cy="933.5" r="9.9"/><circle cx="1181.8" cy="933.5" r="7.9" fill="none" stroke="#E8DCF4" stroke-width="0.9"/>
<circle cx="1226.0" cy="938.4" r="9.9"/><circle cx="1226.0" cy="938.4" r="7.9" fill="none" stroke="#E8DCF4" stroke-width="0.9"/>
<circle cx="1300.9" cy="815.3" r="9.9"/><circle cx="1300.9" cy="815.3" r="7.9" fill="none" stroke="#E8DCF4" stroke-width="0.9"/>
<circle cx="1354.4" cy="799.6" r="9.9"/><circle cx="1354.4" cy="799.6" r="7.9" fill="none" stroke="#E8DCF4" stroke-width="0.9"/>
<circle cx="1369.5" cy="827.9" r="9.9"/><circle cx="1369.5" cy="827.9" r="7.9" fill="none" stroke="#E8DCF4" stroke-width="0.9"/>
<circle cx="1299.1" cy="846.8" r="9.9"/><circle cx="1299.1" cy="846.8" r="7.9" fill="none" stroke="#E8DCF4" stroke-width="0.9"/>
<circle cx="1316.0" cy="862.5" r="9.9"/><circle cx="1316.0" cy="862.5" r="7.9" fill="none" stroke="#E8DCF4" stroke-width="0.9"/>
<circle cx="1305.5" cy="874.0" r="9.9"/><circle cx="1305.5" cy="874.0" r="7.9" fill="none" stroke="#E8DCF4" stroke-width="0.9"/>
<circle cx="1330.5" cy="864.4" r="9.9"/><circle cx="1330.5" cy="864.4" r="7.9" fill="none" stroke="#E8DCF4" stroke-width="0.9"/>
<circle cx="1311.5" cy="895.3" r="9.9"/><circle cx="1311.5" cy="895.3" r="7.9" fill="none" stroke="#E8DCF4" stroke-width="0.9"/>
<circle cx="1301.0" cy="911.7" r="9.9"/><circle cx="1301.0" cy="911.7" r="7.9" fill="none" stroke="#E8DCF4" stroke-width="0.9"/>
<circle cx="1295.3" cy="772.3" r="9.9"/><circle cx="1295.3" cy="772.3" r="7.9" fill="none" stroke="#E8DCF4" stroke-width="0.9"/>
<circle cx="1262.6" cy="806.8" r="9.9"/><circle cx="1262.6" cy="806.8" r="7.9" fill="none" stroke="#E8DCF4" stroke-width="0.9"/>
<circle cx="1316.7" cy="795.6" r="9.9"/><circle cx="1316.7" cy="795.6" r="7.9" fill="none" stroke="#E8DCF4" stroke-width="0.9"/>
<circle cx="1298.1" cy="807.5" r="9.9"/><circle cx="1298.1" cy="807.5" r="7.9" fill="none" stroke="#E8DCF4" stroke-width="0.9"/>
<circle cx="1317.3" cy="828.9" r="9.9"/><circle cx="1317.3" cy="828.9" r="7.9" fill="none" stroke="#E8DCF4" stroke-width="0.9"/>
<circle cx="1345.0" cy="785.8" r="9.9"/><circle cx="1345.0" cy="785.8" r="7.9" fill="none" stroke="#E8DCF4" stroke-width="0.9"/>
<circle cx="1380.2" cy="804.0" r="9.9"/><circle cx="1380.2" cy="804.0" r="7.9" fill="none" stroke="#E8DCF4" stroke-width="0.9"/>
<circle cx="1365.7" cy="819.7" r="9.9"/><circle cx="1365.7" cy="819.7" r="7.9" fill="none" stroke="#E8DCF4" stroke-width="0.9"/>
<circle cx="1278.9" cy="833.6" r="9.9"/><circle cx="1278.9" cy="833.6" r="7.9" fill="none" stroke="#E8DCF4" stroke-width="0.9"/>
<circle cx="1290.0" cy="862.0" r="9.9"/><circle cx="1290.0" cy="862.0" r="7.9" fill="none" stroke="#E8DCF4" stroke-width="0.9"/>
<circle cx="1308.5" cy="865.0" r="9.9"/><circle cx="1308.5" cy="865.0" r="7.9" fill="none" stroke="#E8DCF4" stroke-width="0.9"/>
<circle cx="1341.8" cy="834.5" r="9.9"/><circle cx="1341.8" cy="834.5" r="7.9" fill="none" stroke="#E8DCF4" stroke-width="0.9"/>
<circle cx="1338.1" cy="851.8" r="9.9"/><circle cx="1338.1" cy="851.8" r="7.9" fill="none" stroke="#E8DCF4" stroke-width="0.9"/>
<circle cx="1328.3" cy="869.3" r="9.9"/><circle cx="1328.3" cy="869.3" r="7.9" fill="none" stroke="#E8DCF4" stroke-width="0.9"/>
<circle cx="1364.7" cy="852.5" r="9.9"/><circle cx="1364.7" cy="852.5" r="7.9" fill="none" stroke="#E8DCF4" stroke-width="0.9"/>
<circle cx="1383.5" cy="875.8" r="9.9"/><circle cx="1383.5" cy="875.8" r="7.9" fill="none" stroke="#E8DCF4" stroke-width="0.9"/>
<circle cx="1311.3" cy="888.3" r="9.9"/><circle cx="1311.3" cy="888.3" r="7.9" fill="none" stroke="#E8DCF4" stroke-width="0.9"/>
<circle cx="1330.5" cy="908.5" r="9.9"/><circle cx="1330.5" cy="908.5" r="7.9" fill="none" stroke="#E8DCF4" stroke-width="0.9"/>
<circle cx="1350.3" cy="913.8" r="9.9"/><circle cx="1350.3" cy="913.8" r="7.9" fill="none" stroke="#E8DCF4" stroke-width="0.9"/>
<circle cx="1369.3" cy="913.0" r="9.9"/><circle cx="1369.3" cy="913.0" r="7.9" fill="none" stroke="#E8DCF4" stroke-width="0.9"/>
<circle cx="1286.5" cy="919.4" r="9.9"/><circle cx="1286.5" cy="919.4" r="7.9" fill="none" stroke="#E8DCF4" stroke-width="0.9"/>
<circle cx="1308.7" cy="919.4" r="9.9"/><circle cx="1308.7" cy="919.4" r="7.9" fill="none" stroke="#E8DCF4" stroke-width="0.9"/>
<circle cx="1316.8" cy="933.2" r="9.9"/><circle cx="1316.8" cy="933.2" r="7.9" fill="none" stroke="#E8DCF4" stroke-width="0.9"/>
<circle cx="1439.8" cy="786.8" r="9.9"/><circle cx="1439.8" cy="786.8" r="7.9" fill="none" stroke="#E8DCF4" stroke-width="0.9"/>
<circle cx="1468.1" cy="768.9" r="9.9"/><circle cx="1468.1" cy="768.9" r="7.9" fill="none" stroke="#E8DCF4" stroke-width="0.9"/>
<circle cx="1484.7" cy="792.2" r="9.9"/><circle cx="1484.7" cy="792.2" r="7.9" fill="none" stroke="#E8DCF4" stroke-width="0.9"/>
<circle cx="1393.3" cy="816.7" r="9.9"/><circle cx="1393.3" cy="816.7" r="7.9" fill="none" stroke="#E8DCF4" stroke-width="0.9"/>
<circle cx="1385.1" cy="835.6" r="9.9"/><circle cx="1385.1" cy="835.6" r="7.9" fill="none" stroke="#E8DCF4" stroke-width="0.9"/>
<circle cx="1394.4" cy="867.6" r="9.9"/><circle cx="1394.4" cy="867.6" r="7.9" fill="none" stroke="#E8DCF4" stroke-width="0.9"/>
<circle cx="1526.8" cy="780.0" r="9.9"/><circle cx="1526.8" cy="780.0" r="7.9" fill="none" stroke="#E8DCF4" stroke-width="0.9"/>
<circle cx="1511.1" cy="729.4" r="9.9"/><circle cx="1511.1" cy="729.4" r="7.9" fill="none" stroke="#E8DCF4" stroke-width="0.9"/>
<circle cx="1431.6" cy="755.1" r="9.9"/><circle cx="1431.6" cy="755.1" r="7.9" fill="none" stroke="#E8DCF4" stroke-width="0.9"/>
<circle cx="1471.6" cy="749.1" r="9.9"/><circle cx="1471.6" cy="749.1" r="7.9" fill="none" stroke="#E8DCF4" stroke-width="0.9"/>
<circle cx="1391.1" cy="770.2" r="9.9"/><circle cx="1391.1" cy="770.2" r="7.9" fill="none" stroke="#E8DCF4" stroke-width="0.9"/>
<circle cx="1430.4" cy="774.0" r="9.9"/><circle cx="1430.4" cy="774.0" r="7.9" fill="none" stroke="#E8DCF4" stroke-width="0.9"/>
<circle cx="1457.0" cy="777.5" r="9.9"/><circle cx="1457.0" cy="777.5" r="7.9" fill="none" stroke="#E8DCF4" stroke-width="0.9"/>
<circle cx="1484.2" cy="767.9" r="9.9"/><circle cx="1484.2" cy="767.9" r="7.9" fill="none" stroke="#E8DCF4" stroke-width="0.9"/>
<circle cx="1475.4" cy="782.5" r="9.9"/><circle cx="1475.4" cy="782.5" r="7.9" fill="none" stroke="#E8DCF4" stroke-width="0.9"/>
<circle cx="1392.4" cy="789.1" r="9.9"/><circle cx="1392.4" cy="789.1" r="7.9" fill="none" stroke="#E8DCF4" stroke-width="0.9"/>
<circle cx="1380.7" cy="804.8" r="9.9"/><circle cx="1380.7" cy="804.8" r="7.9" fill="none" stroke="#E8DCF4" stroke-width="0.9"/>
<circle cx="1407.1" cy="802.3" r="9.9"/><circle cx="1407.1" cy="802.3" r="7.9" fill="none" stroke="#E8DCF4" stroke-width="0.9"/>
<circle cx="1420.9" cy="795.6" r="9.9"/><circle cx="1420.9" cy="795.6" r="7.9" fill="none" stroke="#E8DCF4" stroke-width="0.9"/>
<circle cx="1428.1" cy="812.7" r="9.9"/><circle cx="1428.1" cy="812.7" r="7.9" fill="none" stroke="#E8DCF4" stroke-width="0.9"/>
<circle cx="1393.3" cy="826.8" r="9.9"/><circle cx="1393.3" cy="826.8" r="7.9" fill="none" stroke="#E8DCF4" stroke-width="0.9"/>
<circle cx="1414.7" cy="833.3" r="9.9"/><circle cx="1414.7" cy="833.3" r="7.9" fill="none" stroke="#E8DCF4" stroke-width="0.9"/>
<circle cx="1405.8" cy="860.5" r="9.9"/><circle cx="1405.8" cy="860.5" r="7.9" fill="none" stroke="#E8DCF4" stroke-width="0.9"/>
<circle cx="1547.9" cy="702.4" r="9.9"/><circle cx="1547.9" cy="702.4" r="7.9" fill="none" stroke="#E8DCF4" stroke-width="0.9"/>
<circle cx="1588.4" cy="725.3" r="9.9"/><circle cx="1588.4" cy="725.3" r="7.9" fill="none" stroke="#E8DCF4" stroke-width="0.9"/>
<circle cx="1516.7" cy="729.7" r="9.9"/><circle cx="1516.7" cy="729.7" r="7.9" fill="none" stroke="#E8DCF4" stroke-width="0.9"/>
<circle cx="1541.6" cy="732.6" r="9.9"/><circle cx="1541.6" cy="732.6" r="7.9" fill="none" stroke="#E8DCF4" stroke-width="0.9"/>
<circle cx="1546.3" cy="747.7" r="9.9"/><circle cx="1546.3" cy="747.7" r="7.9" fill="none" stroke="#E8DCF4" stroke-width="0.9"/>
<circle cx="1528.7" cy="753.2" r="9.9"/><circle cx="1528.7" cy="753.2" r="7.9" fill="none" stroke="#E8DCF4" stroke-width="0.9"/>
<circle cx="1535.6" cy="784.4" r="9.9"/><circle cx="1535.6" cy="784.4" r="7.9" fill="none" stroke="#E8DCF4" stroke-width="0.9"/>
<circle cx="1393.6" cy="703.2" r="9.9"/><circle cx="1393.6" cy="703.2" r="7.9" fill="none" stroke="#E8DCF4" stroke-width="0.9"/>
<circle cx="1418.8" cy="735.5" r="9.9"/><circle cx="1418.8" cy="735.5" r="7.9" fill="none" stroke="#E8DCF4" stroke-width="0.9"/>
</g>
<g fill="#484848">
<text transform="translate(1054.82,995.00) scale(0.9472,1)" font-size="36.0">0</text>
<text transform="translate(1206.94,995.00) scale(0.9178,1)" font-size="36.0">20</text>
<text transform="translate(1369.06,995.00) scale(0.8939,1)" font-size="36.0">40</text>
<text transform="translate(1529.32,995.00) scale(0.9183,1)" font-size="36.0">60</text>
<text transform="translate(1690.77,995.00) scale(0.9117,1)" font-size="36.0">80</text>
<text transform="translate(1013.57,950.05) scale(0.9472,1)" font-size="36.0">0</text>
<text transform="translate(995.74,862.00) scale(0.9178,1)" font-size="36.0">20</text>
<text transform="translate(996.66,773.95) scale(0.8939,1)" font-size="36.0">40</text>
<text transform="translate(995.72,685.90) scale(0.9183,1)" font-size="36.0">60</text>
<text transform="translate(995.97,597.85) scale(0.9117,1)" font-size="36.0">80</text>
</g>
<g fill="#484848">
<text transform="translate(371.59,480.20) scale(0.9247,1)" font-size="39.7">RVol</text>
<text transform="translate(452.05,489.80) scale(1.0089,1)" font-size="26.2">AAo</text>
<text transform="translate(513.50,480.20) scale(0.9352,1)" font-size="39.7">(mL)</text>
<text transform="translate(1307.96,480.20) scale(0.8092,1)" font-size="39.7">RF</text>
<text transform="translate(1351.05,489.80) scale(1.0192,1)" font-size="26.2">AAo</text>
<text transform="translate(1412.81,480.20) scale(0.8501,1)" font-size="39.7">(%)</text>
<text transform="translate(386.29,1052.30) scale(0.9247,1)" font-size="39.7">RVol</text>
<text transform="translate(466.75,1061.90) scale(1.0089,1)" font-size="26.2">AAo</text>
<text transform="translate(528.20,1052.30) scale(0.9352,1)" font-size="39.7">(mL)</text>
<text transform="translate(1308.26,1053.20) scale(0.8092,1)" font-size="39.7">RF</text>
<text transform="translate(1351.35,1062.80) scale(1.0192,1)" font-size="26.2">AAo</text>
<text transform="translate(1413.11,1053.20) scale(0.8501,1)" font-size="39.7">(%)</text>
<text transform="translate(63.00,292.41) rotate(-90) scale(0.9247,1)" font-size="39.7">RVol</text>
<text transform="translate(73.30,213.18) rotate(-90) scale(1.0615,1)" font-size="26.2">DA</text>
<text transform="translate(63.00,163.10) rotate(-90) scale(0.9326,1)" font-size="39.7">(mL)</text>
<text transform="translate(87.40,864.81) rotate(-90) scale(0.9247,1)" font-size="39.7">RVol</text>
<text transform="translate(97.70,785.58) rotate(-90) scale(1.0615,1)" font-size="26.2">DA</text>
<text transform="translate(87.40,735.50) rotate(-90) scale(0.9326,1)" font-size="39.7">(mL)</text>
<text transform="translate(974.00,262.64) rotate(-90) scale(0.8092,1)" font-size="39.7">RF</text>
<text transform="translate(984.30,221.93) rotate(-90) scale(1.0820,1)" font-size="26.2">DA</text>
<text transform="translate(974.00,170.00) rotate(-90) scale(0.8536,1)" font-size="39.7">(%)</text>
<text transform="translate(974.00,835.94) rotate(-90) scale(0.8092,1)" font-size="39.7">RF</text>
<text transform="translate(984.30,795.23) rotate(-90) scale(1.0820,1)" font-size="26.2">DA</text>
<text transform="translate(974.00,743.30) rotate(-90) scale(0.8536,1)" font-size="39.7">(%)</text>
</g>
</svg></body></html>
